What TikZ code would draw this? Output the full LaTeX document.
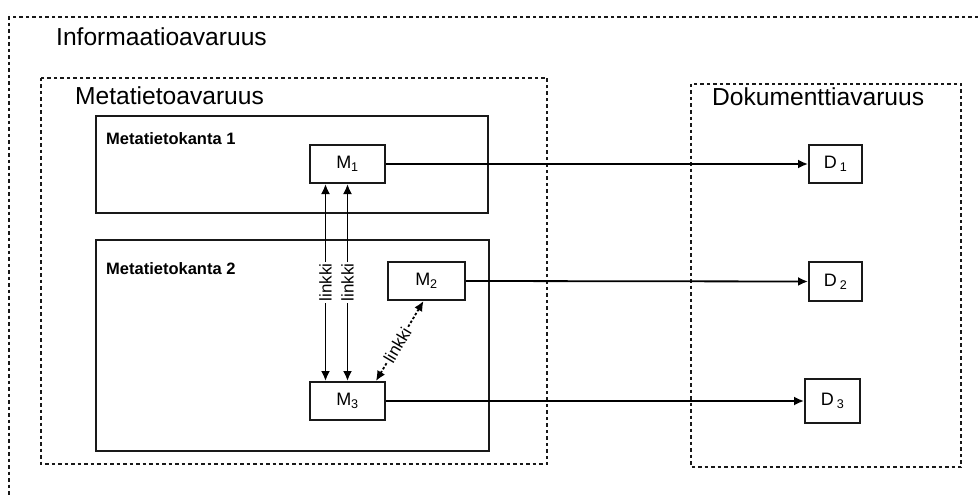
\documentclass[tikz,border=0pt]{standalone}
\usepackage{fontspec}
\setmainfont{Liberation Sans}
\usetikzlibrary{arrows.meta,calc}
\begin{document}
\begin{tikzpicture}[x=1pt,y=-1pt,
  dotbox/.style={draw=black!90,line width=1.6pt,dash pattern=on 3.5pt off 3pt},
  dbbox/.style={draw=black!90,line width=2pt},
  item/.style={draw=black!90,line width=2pt,inner sep=0pt,font=\fontsize{18}{20}\selectfont},
  title/.style={anchor=base west,inner sep=0pt,font=\fontsize{24.6}{28}\selectfont},
  dbtitle/.style={anchor=base west,inner sep=0pt,font=\fontsize{16.5}{19}\selectfont\bfseries},
  conn/.style={line width=1.8pt,-{Latex[length=10pt,width=9pt]}},
  link/.style={line width=1.8pt,{Latex[length=10pt,width=9pt]}-{Latex[length=10pt,width=9pt]}},
  lbl/.style={fill=white,inner sep=1.5pt,font=\fontsize{17}{18}\selectfont}
]
\useasboundingbox (0,0) rectangle (978,495);
\fill[white] (0,0) rectangle (978,495);
% outer information space (runs off the picture)
\draw[dotbox] (978,17) -- (9,17) -- (9,495);
\node[title] (tinfo) at (56,46) {Informaatioavaruus};
% metadata space
\draw[dotbox] (41,78) rectangle (547,464);
\node[title] (tmeta) at (75,104) {Metatietoavaruus};
% document space
\draw[dotbox] (691,84) rectangle (961,467);
\node[title] (tdoc) at (712,106) {Dokumenttiavaruus};
% databases
\draw[dbbox] (96,116) rectangle (488,213);
\node[dbtitle] (tdb1) at (106,144) {Metatietokanta 1};
\draw[dbbox] (96,240) rectangle (489,451);
\node[dbtitle] (tdb2) at (106,274) {Metatietokanta 2};
% items
\node[item,minimum width=75pt,minimum height=38pt] (M1) at (347.5,164) {M\textsubscript{1}};
\node[item,minimum width=77pt,minimum height=38pt] (M2) at (426.5,281) {M\textsubscript{2}};
\node[item,minimum width=75pt,minimum height=38pt] (M3) at (347.5,401) {M\textsubscript{3}};
\node[item,minimum width=53pt,minimum height=38pt] (D1) at (835.5,164) {D\,\textsubscript{1}};
\node[item,minimum width=53pt,minimum height=39pt] (D2) at (835.5,281.5) {D\,\textsubscript{2}};
\node[item,minimum width=55pt,minimum height=44pt] (D3) at (832.5,401) {D\,\textsubscript{3}};
% connectors to documents
\draw[conn] (M1.east) -- (D1.west);
\draw[conn] (M2.east) -- (D2.west);
\draw[conn] (M3.east) -- (D3.west);
% links
\draw[link] ([xshift=-22pt]M1.south) -- node[lbl,rotate=90] (L1) {linkki} ([xshift=-22pt]M3.north);
\draw[link] (M1.south) -- node[lbl,rotate=90] (L2) {linkki} (M3.north);
\draw[link,dash pattern=on 2.5pt off 2pt] ([xshift=-10pt]M3.north east) -- node[lbl,sloped,pos=0.45] (L3) {linkki} ([xshift=-3pt]M2.south);
\end{tikzpicture}
\end{document}
